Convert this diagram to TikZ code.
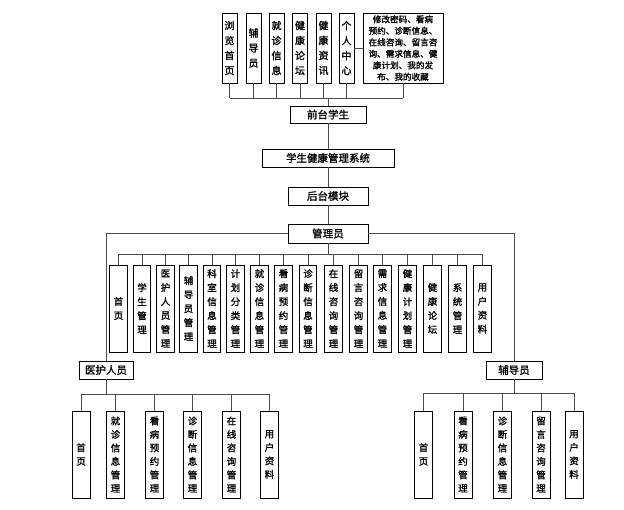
\documentclass[tikz,border=0pt]{standalone}
\usepackage{fontspec}
\newfontfamily\cjk{Noto Sans CJK SC}[FakeBold=1.4]
\usepackage{tikz}
\newdimen\unitsize
\setlength{\unitsize}{1pt}
\tikzset{
  box/.style={draw=black,line width=0.9pt,inner sep=0pt,outer sep=0pt,align=center,
    font=\cjk\fontsize{10.5}{12}\selectfont},
  hbox/.style={box,minimum height=18pt},
  topbox/.style={box,minimum width=15pt,minimum height=70pt,
    font=\cjk\fontsize{10}{15}\selectfont},
  admbox/.style={box,minimum width=17.5pt,minimum height=87pt,
    font=\cjk\fontsize{9.5}{14}\selectfont},
  subbox/.style={box,minimum width=18pt,minimum height=87pt,
    font=\cjk\fontsize{9.5}{13.5}\selectfont},
  conn/.style={draw=black!70,line width=0.9pt}
}
\begin{document}
\begin{tikzpicture}[x=\unitsize,y=-\unitsize]
\useasboundingbox (0,0) rectangle (624,509);
% front end
\foreach \i/\cx/\txt in {1/229.5/{浏\\览\\首\\页},2/253.5/{辅\\导\\员},3/276.5/{就\\诊\\信\\息},
  4/300/{健\\康\\论\\坛},5/323.5/{健\\康\\资\\讯},6/346.5/{个\\人\\中\\心}}{
  \node[topbox] (top\i) at (\cx,48) {\txt};
}
\node[box,minimum width=80pt,minimum height=70pt,font=\cjk\fontsize{8.6}{11.5}\selectfont]
  (top7) at (403,48) {修改密码、看病\\预约、诊断信息、\\在线咨询、留言咨\\询、需求信息、健\\康计划、我的发\\布、我的收藏};
\draw[conn] (top6.east) -- (top7.west);
\coordinate (topbus) at (328,98);
\foreach \i in {1,...,7}{
  \draw[conn] (top\i.south) -- (top\i.south |- topbus);
}
\draw[conn] (top1.south |- topbus) -- (top7.south |- topbus);
% main column
\node[hbox,minimum width=76pt,minimum height=17pt] (qt) at (328,114.5) {前台学生};
\node[hbox,minimum width=132pt] (sys) at (328,158) {学生健康管理系统};
\node[hbox,minimum width=80pt] (back) at (328,196) {后台模块};
\node[hbox,minimum width=80pt,minimum height=19pt] (adm) at (328,233.5) {管理员};
\draw[conn] (topbus) -- (qt.north);
\draw[conn] (qt.south) -- (sys.north);
\draw[conn] (sys.south) -- (back.north);
\draw[conn] (back.south) -- (adm.north);
% admin
\foreach \i/\cx/\txt in {1/118.5/{首\\页},2/142/{学\\生\\管\\理},3/165.5/{医\\护\\人\\员\\管\\理},
  4/188.5/{辅\\导\\员\\管\\理},5/212/{科\\室\\信\\息\\管\\理},6/235.5/{计\\划\\分\\类\\管\\理},
  7/259.5/{就\\诊\\信\\息\\管\\理},8/283.5/{看\\病\\预\\约\\管\\理},9/308/{诊\\断\\信\\息\\管\\理},
  10/333.5/{在\\线\\咨\\询\\管\\理},11/358.5/{留\\言\\咨\\询\\管\\理},12/382.5/{需\\求\\信\\息\\管\\理},
  13/407.5/{健\\康\\计\\划\\管\\理},14/432.5/{健\\康\\论\\坛},15/457.5/{系\\统\\管\\理},
  16/482.5/{用\\户\\资\\料}}{
  \node[admbox] (adm\i) at (\cx,308.5) {\txt};
}
\coordinate (admbus) at (328,254);
\draw[conn] (adm.south) -- (admbus);
\draw[conn] (adm1.north |- admbus) -- (adm16.north |- admbus);
\foreach \i in {1,...,16}{
  \draw[conn] (adm\i.north |- admbus) -- (adm\i.north);
}
% medical staff
\node[hbox,minimum width=54pt] (hu) at (106,370) {医护人员};
\draw[conn] (adm.west) -| (hu.north);
\foreach \i/\cx/\txt in {1/81/{首\\页},2/115.5/{就\\诊\\信\\息\\管\\理},3/154.5/{看\\病\\预\\约\\管\\理},
  4/192.5/{诊\\断\\信\\息\\管\\理},5/231.5/{在\\线\\咨\\询\\管\\理},6/269.5/{用\\户\\资\\料}}{
  \node[subbox] (hu\i) at (\cx,454.5) {\txt};
}
\coordinate (hubus) at (106,394);
\draw[conn] (hu.south) -- (hubus);
\draw[conn] (hu1.north |- hubus) -- (hu6.north |- hubus);
\foreach \i in {1,...,6}{
  \draw[conn] (hu\i.north |- hubus) -- (hu\i.north);
}
% counsellor
\node[hbox,minimum width=56pt] (fd) at (514,370) {辅导员};
\draw[conn] (adm.east) -| (fd.north);
\foreach \i/\cx/\txt in {1/423.5/{首\\页},2/463/{看\\病\\预\\约\\管\\理},3/502.5/{诊\\断\\信\\息\\管\\理},
  4/541/{留\\言\\咨\\询\\管\\理},5/574/{用\\户\\资\\料}}{
  \node[subbox] (fd\i) at (\cx,454.5) {\txt};
}
\coordinate (fdbus) at (514,393);
\draw[conn] (fd.south) -- (fdbus);
\draw[conn] (fd1.north |- fdbus) -- (fd5.north |- fdbus);
\foreach \i in {1,...,5}{
  \draw[conn] (fd\i.north |- fdbus) -- (fd\i.north);
}
\end{tikzpicture}
\end{document}
